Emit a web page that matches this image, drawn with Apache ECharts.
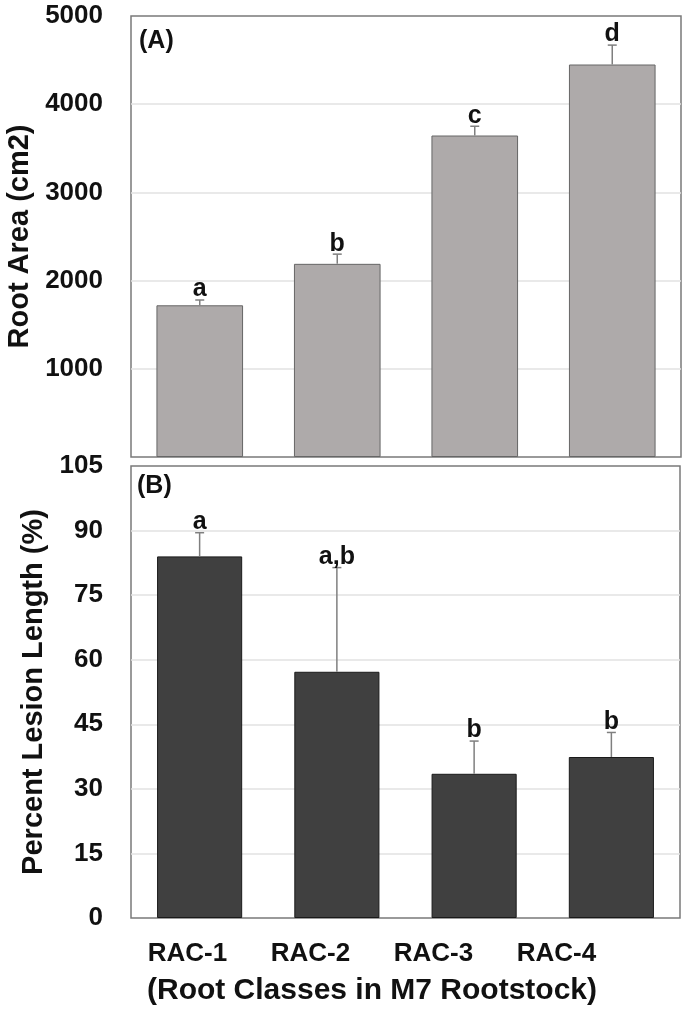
<!DOCTYPE html>
<html>
<head>
<meta charset="utf-8">
<script src="https://cdn.jsdelivr.net/npm/echarts@6/dist/echarts.min.js"></script>
<style>
  html, body { margin: 0; padding: 0; background: #fff; }
  #chart { width: 685px; height: 1018px; }
</style>
</head>
<body>
<div id="chart"></div>
<script>
// root classes on the x axis
const classes = ['RAC-1', 'RAC-2', 'RAC-3', 'RAC-4'];

// panel A: root area (cm2), mean and upper error
const rootArea = [1720, 2190, 3645, 4450];
const rootAreaErr = [60, 110, 105, 220];
const rootAreaLetters = ['a', 'b', 'c', 'd'];

// panel B: percent lesion length
const lesion = [84, 57.2, 33.5, 37.4];
const lesionErr = [5.5, 24.2, 7.6, 5.7];
const lesionLetters = ['a', 'a,b', 'b', 'b'];

// axis ticks
const areaTicks = { min: 0, max: 5000, step: 1000 };
const lesionTicks = { min: 0, max: 105, step: 15 };

const FONT = '"Liberation Sans", Arial, sans-serif';
const INK = '#111';

function errorSeries(means, errs, letters, axisIdx) {
  return {
    type: 'custom',
    xAxisIndex: axisIdx,
    yAxisIndex: axisIdx,
    data: means.map((m, i) => [i, m, errs[i]]),
    z: 5,
    renderItem: function (params, api) {
      const i = api.value(0);
      const base = api.coord([i, api.value(1)]);
      const top = api.coord([i, api.value(1) + api.value(2)]);
      const hw = 4.5;
      return {
        type: 'group',
        children: [
          { type: 'line', shape: { x1: base[0], y1: base[1], x2: top[0], y2: top[1] },
            style: { stroke: '#7f7f7f', lineWidth: 1.5 } },
          { type: 'line', shape: { x1: top[0] - hw, y1: top[1], x2: top[0] + hw, y2: top[1] },
            style: { stroke: '#7f7f7f', lineWidth: 1.5 } },
          { type: 'text', x: top[0], y: top[1] + 2,
            style: { text: letters[i], fill: INK, font: 'bold 25px ' + FONT,
                     align: 'center', verticalAlign: 'bottom' } }
        ]
      };
    }
  };
}

const chart = echarts.init(document.getElementById('chart'));

const gridBox = {
  show: true, borderColor: '#7a7a7a', borderWidth: 1.5, backgroundColor: '#fff',
  containLabel: false, outerBoundsMode: 'none'
};
const hiddenX = {
  type: 'category', data: classes,
  axisLine: { show: false }, axisTick: { show: false }, axisLabel: { show: false }
};
const tickLabel = {
  color: INK, fontFamily: FONT, fontWeight: 'bold', fontSize: 26, margin: 28,
  formatter: v => String(v)
};
const nameStyle = { color: INK, fontFamily: FONT, fontWeight: 'bold', fontSize: 29 };
const gridLine = {
  showMinLine: false, showMaxLine: false,
  lineStyle: { color: '#e2e2e2', width: 1.5 }
};

chart.setOption({
  animation: false,
  title: [
    { text: '(A)', left: 134, top: 24, textStyle: { color: INK, fontFamily: FONT, fontWeight: 'bold', fontSize: 25 } },
    { text: '(B)', left: 132, top: 469, textStyle: { color: INK, fontFamily: FONT, fontWeight: 'bold', fontSize: 25 } }
  ],
  grid: [
    Object.assign({ left: 131, right: 4, top: 16, height: 441 }, gridBox),
    Object.assign({ left: 131, right: 5, top: 466, height: 452 }, gridBox),
    { left: 126, width: 492, top: 918, height: 1, show: false, containLabel: false, outerBoundsMode: 'none' }
  ],
  xAxis: [
    Object.assign({ gridIndex: 0 }, hiddenX),
    Object.assign({ gridIndex: 1 }, hiddenX),
    {
      type: 'category', gridIndex: 2, data: classes,
      axisLine: { show: false }, axisTick: { show: false },
      axisLabel: { color: INK, fontFamily: FONT, fontWeight: 'bold', fontSize: 26, margin: 22 },
      name: '(Root Classes in M7 Rootstock)', nameLocation: 'middle', nameGap: 57,
      nameTextStyle: { color: INK, fontFamily: FONT, fontWeight: 'bold', fontSize: 30 }
    }
  ],
  yAxis: [
    {
      type: 'value', gridIndex: 0,
      min: areaTicks.min, max: areaTicks.max, interval: areaTicks.step,
      axisLine: { show: false }, axisTick: { show: false },
      axisLabel: Object.assign({ showMinLabel: false }, tickLabel),
      splitLine: gridLine,
      name: 'Root Area (cm2)', nameLocation: 'middle', nameGap: 97, nameTextStyle: nameStyle
    },
    {
      type: 'value', gridIndex: 1,
      min: lesionTicks.min, max: lesionTicks.max, interval: lesionTicks.step,
      axisLine: { show: false }, axisTick: { show: false },
      axisLabel: tickLabel,
      splitLine: gridLine,
      name: 'Percent Lesion Length (%)', nameLocation: 'middle', nameGap: 83, nameTextStyle: nameStyle
    },
    { type: 'value', gridIndex: 2, show: false }
  ],
  series: [
    {
      type: 'bar', xAxisIndex: 0, yAxisIndex: 0, data: rootArea, barWidth: '63%',
      itemStyle: { color: '#aeaaaa', borderColor: '#666', borderWidth: 1 }
    },
    errorSeries(rootArea, rootAreaErr, rootAreaLetters, 0),
    {
      type: 'bar', xAxisIndex: 1, yAxisIndex: 1, data: lesion, barWidth: '62%',
      itemStyle: { color: '#404040', borderColor: '#1a1a1a', borderWidth: 1 }
    },
    errorSeries(lesion, lesionErr, lesionLetters, 1)
  ]
});
</script>
</body>
</html>
